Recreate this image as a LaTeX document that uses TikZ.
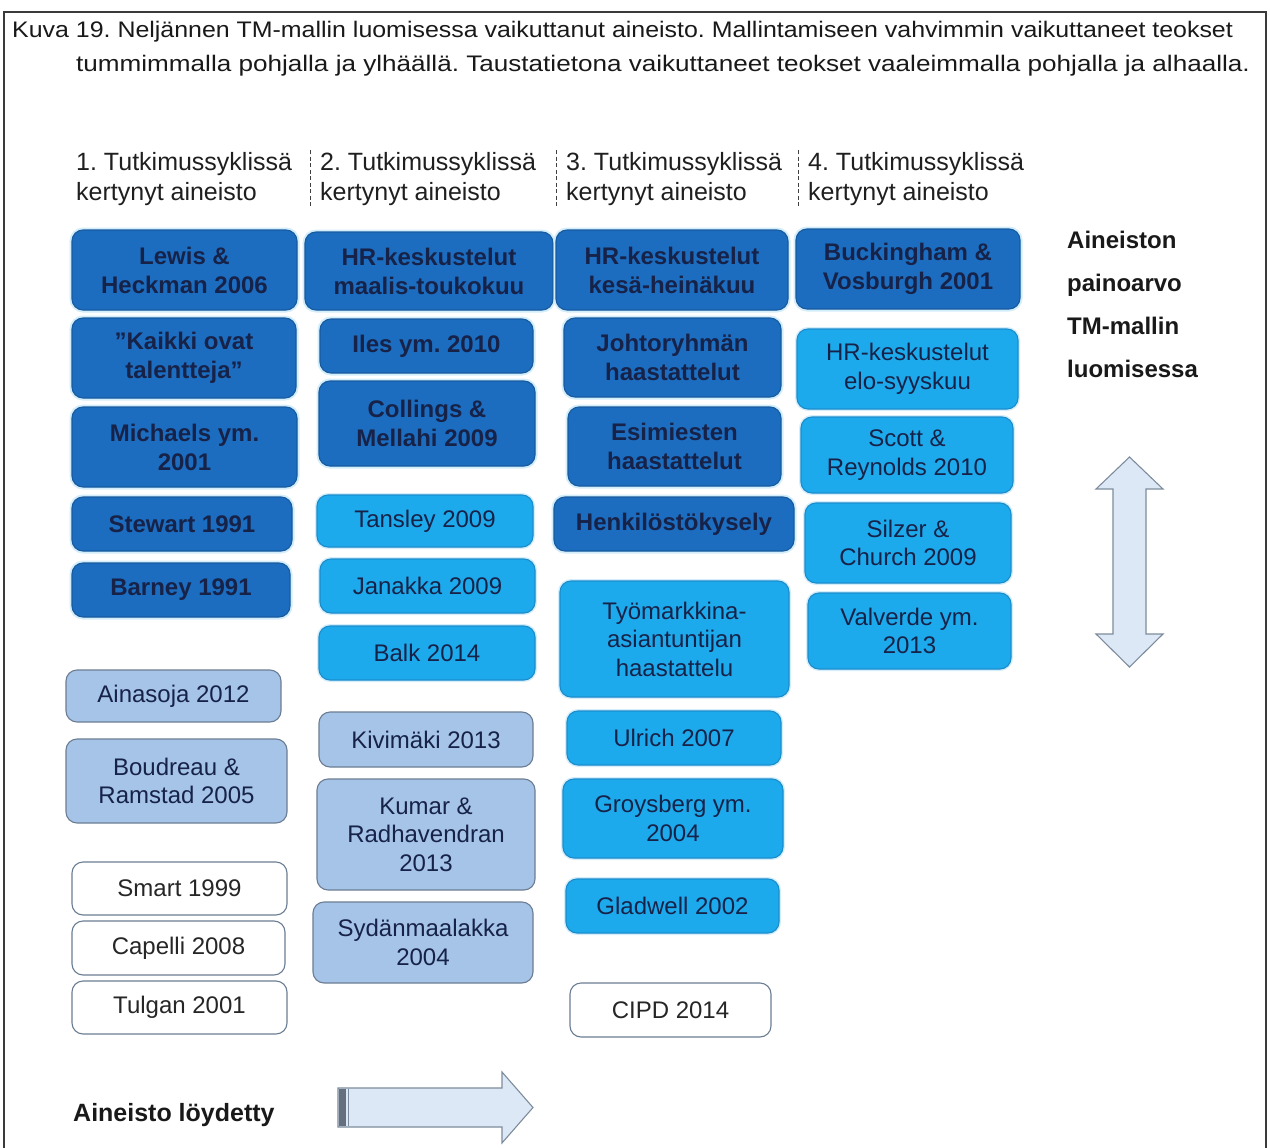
\documentclass[tikz,border=0pt]{standalone}
\usepackage{fontspec}
\setmainfont{Liberation Sans}
\frenchspacing
\definecolor{darkfill}{HTML}{1C6DC0}
\definecolor{darkline}{HTML}{175A9E}
\definecolor{midfill}{HTML}{1DAAEC}
\definecolor{midline}{HTML}{1B8CCB}
\definecolor{steelfill}{HTML}{A5C4E8}
\definecolor{steelline}{HTML}{6B7D93}
\definecolor{navytext}{HTML}{172248}
\definecolor{halo}{HTML}{D3EDFA}
\definecolor{arrowfill}{HTML}{DCE8F5}
\definecolor{arrowline}{HTML}{7D8C9C}
\definecolor{framecol}{HTML}{3A3A3A}
\tikzset{
  tmbase/.style={rounded corners=11pt, align=center, inner sep=0pt, line width=1.1pt},
  tmdark/.style={tmbase, fill=darkfill, draw=darkline, text=navytext,
    font=\fontsize{24}{29}\selectfont\bfseries,
    preaction={draw=halo, line width=5pt}},
  tmmid/.style={tmbase, fill=midfill, draw=midline, text=navytext,
    font=\fontsize{24}{28.5}\selectfont,
    preaction={draw=halo, line width=4pt}},
  tmsteel/.style={tmbase, fill=steelfill, draw=steelline, text=navytext,
    font=\fontsize{24}{28.5}\selectfont},
  tmwhite/.style={tmbase, fill=white, draw=steelline, text=black!85,
    font=\fontsize{24}{28}\selectfont},
  captxt/.style={anchor=base west, inner sep=0pt, text=black!90, font=\fontsize{22.5}{26}\selectfont},
  headtxt/.style={anchor=base west, inner sep=0pt, text=black!88, font=\fontsize{25}{28}\selectfont},
  sidetxt/.style={anchor=base west, inner sep=0pt, text=black!90, font=\fontsize{24}{28}\selectfont\bfseries},
  sepline/.style={draw=black!75, line width=0.9pt, dash pattern=on 4pt off 2.5pt},
  bigarrow/.style={fill=arrowfill, draw=arrowline, line width=1.1pt, line join=miter}
}
% #1 name, #2 style, #3 left, #4 top, #5 right, #6 bottom, #7 text
\newcommand\tmbox[7]{%
  \node[#2, minimum width={(#5)-(#3)}, minimum height={(#6)-(#4)}]
    (#1) at ({((#3)+(#5))/2},{((#4)+(#6))/2}) {#7};}
\begin{document}
\begin{tikzpicture}[x=1pt,y=-1pt]
\useasboundingbox (0,0) rectangle (1270,1148);
\begin{scope}
\clip (0,0) rectangle (1270,1148);
\draw[framecol, line width=1.6pt] (4,12) rectangle (1266,1160);
\end{scope}

% caption
\node[captxt] (cap1) at (12,38) {\scalebox{1.108}[1]{Kuva 19. Neljännen TM-mallin luomisessa vaikuttanut aineisto. Mallintamiseen vahvimmin vaikuttaneet teokset}};
\node[captxt] (cap2) at (76,72) {\scalebox{1.16}[1]{tummimmalla pohjalla ja ylhäällä. Taustatietona vaikuttaneet teokset vaaleimmalla pohjalla ja alhaalla.}};

% column headings
\node[headtxt] (h1a) at (76,170) {1. Tutkimussyklissä};
\node[headtxt] (h1b) at (76,200) {kertynyt aineisto};
\node[headtxt] (h2a) at (320,170) {2. Tutkimussyklissä};
\node[headtxt] (h2b) at (320,200) {kertynyt aineisto};
\node[headtxt] (h3a) at (566,170) {3. Tutkimussyklissä};
\node[headtxt] (h3b) at (566,200) {kertynyt aineisto};
\node[headtxt] (h4a) at (808,170) {4. Tutkimussyklissä};
\node[headtxt] (h4b) at (808,200) {kertynyt aineisto};
\coordinate (s1t) at (310,150); \coordinate (s1b) at (310,208);
\coordinate (s2t) at (556,150); \coordinate (s2b) at (556,208);
\coordinate (s3t) at (798,150); \coordinate (s3b) at (798,208);
\draw[sepline] (s1t) -- (s1b);
\draw[sepline] (s2t) -- (s2b);
\draw[sepline] (s3t) -- (s3b);

% column 1
\tmbox{lewis}{tmdark}{72}{230}{297}{310}{Lewis \&\\Heckman 2006}
\tmbox{kaikki}{tmdark}{72}{318}{296}{398}{”Kaikki ovat\\talentteja”}
\tmbox{michaels}{tmdark}{72}{407}{297}{487}{Michaels ym.\\2001}
\tmbox{stewart}{tmdark}{72}{497}{292}{551}{Stewart 1991}
\tmbox{barney}{tmdark}{72}{563}{290}{617}{Barney 1991}
\tmbox{ainasoja}{tmsteel}{66}{670}{281}{722}{Ainasoja 2012}
\tmbox{boudreau}{tmsteel}{66}{739}{287}{823}{Boudreau \&\\Ramstad 2005}
\tmbox{smart}{tmwhite}{72}{862}{287}{915}{Smart 1999}
\tmbox{capelli}{tmwhite}{72}{921}{285}{975}{Capelli 2008}
\tmbox{tulgan}{tmwhite}{72}{981}{287}{1034}{Tulgan 2001}

% column 2
\tmbox{hrmt}{tmdark}{305}{232}{553}{310}{HR-keskustelut\\maalis-toukokuu}
\tmbox{iles}{tmdark}{320}{319}{533}{373}{Iles ym. 2010}
\tmbox{collings}{tmdark}{319}{381}{535}{466}{Collings \&\\Mellahi 2009}
\tmbox{tansley}{tmmid}{317}{495}{533}{547}{Tansley 2009}
\tmbox{janakka}{tmmid}{320}{559}{535}{613}{Janakka 2009}
\tmbox{balk}{tmmid}{319}{626}{535}{680}{Balk 2014}
\tmbox{kivimaki}{tmsteel}{319}{712}{533}{767}{Kivimäki 2013}
\tmbox{kumar}{tmsteel}{317}{779}{535}{890}{Kumar \&\\Radhavendran\\2013}
\tmbox{sydan}{tmsteel}{313}{902}{533}{983}{Sydänmaalakka\\2004}

% column 3
\tmbox{hrkh}{tmdark}{556}{230}{788}{310}{HR-keskustelut\\kesä-heinäkuu}
\tmbox{johto}{tmdark}{564}{318}{781}{397}{Johtoryhmän\\haastattelut}
\tmbox{esim}{tmdark}{568}{407}{781}{486}{Esimiesten\\haastattelut}
\tmbox{henk}{tmdark}{554}{497}{794}{551}{Henkilöstökysely}
\tmbox{tyom}{tmmid}{560}{581}{789}{697}{Työmarkkina-\\asiantuntijan\\haastattelu}
\tmbox{ulrich}{tmmid}{567}{711}{781}{765}{Ulrich 2007}
\tmbox{groys}{tmmid}{563}{779}{783}{858}{Groysberg ym.\\2004}
\tmbox{gladwell}{tmmid}{566}{879}{779}{933}{Gladwell 2002}
\tmbox{cipd}{tmwhite}{570}{983}{771}{1037}{CIPD 2014}

% column 4
\tmbox{buck}{tmdark}{796}{229}{1020}{309}{Buckingham \&\\Vosburgh 2001}
\tmbox{hres}{tmmid}{797}{329}{1018}{409}{HR-keskustelut\\elo-syyskuu}
\tmbox{scott}{tmmid}{801}{417}{1013}{493}{Scott \&\\Reynolds 2010}
\tmbox{silzer}{tmmid}{805}{503}{1011}{583}{Silzer \&\\Church 2009}
\tmbox{valverde}{tmmid}{808}{593}{1011}{669}{Valverde ym.\\2013}

% weight legend
\node[sidetxt] (w1) at (1067,248) {Aineiston};
\node[sidetxt] (w2) at (1067,291) {painoarvo};
\node[sidetxt] (w3) at (1067,334) {TM-mallin};
\node[sidetxt] (w4) at (1067,377) {luomisessa};
\draw[bigarrow] (1129.5,457) -- (1163,489) -- (1146,489) -- (1146,634) -- (1163,634)
  -- (1129.5,667) -- (1096,634) -- (1113,634) -- (1113,489) -- (1096,489) -- cycle;

% discovery legend
\node[sidetxt, font=\fontsize{25}{28}\selectfont\bfseries] (found) at (73,1121) {Aineisto löydetty};
\draw[bigarrow] (338,1088) -- (502,1088) -- (502,1072) -- (533,1107.5) -- (502,1143)
  -- (502,1127) -- (338,1127) -- cycle;
\fill[arrowline!80!black] (339,1088.6) rectangle (345.5,1126.4);
\draw[arrowline, line width=0.8pt] (348.5,1088.6) -- (348.5,1126.4);
\end{tikzpicture}
\end{document}
